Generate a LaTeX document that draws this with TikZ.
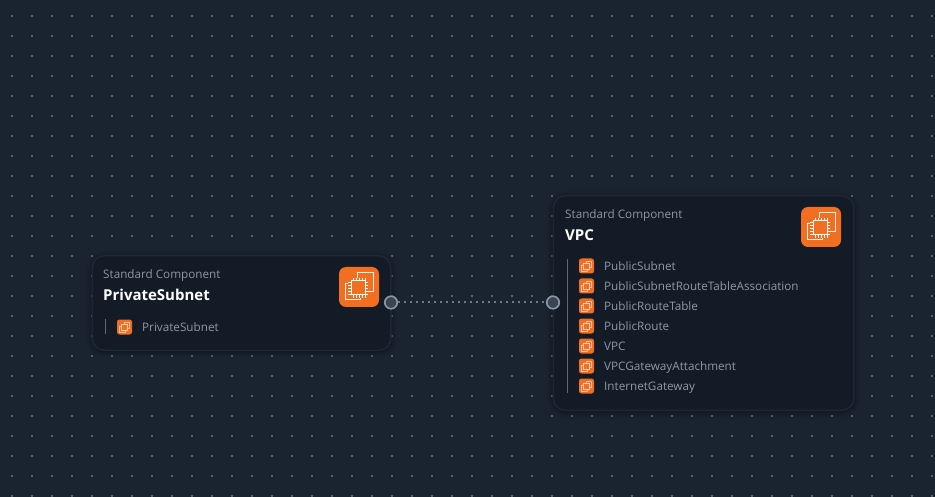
\documentclass[tikz,border=0pt]{standalone}
\usepackage{fontspec}
\setmainfont{Open Sans}
\usetikzlibrary{positioning,shadows.blur}
\definecolor{canvasbg}{HTML}{1A2330}
\definecolor{griddot}{HTML}{56616D}
\definecolor{cardbg}{HTML}{131B27}
\definecolor{cardline}{HTML}{1E2835}
\definecolor{captiontxt}{HTML}{8D96A1}
\definecolor{itemtxt}{HTML}{8F98A3}
\definecolor{iconbg}{HTML}{F26F22}
\definecolor{portbg}{HTML}{3A4553}
\definecolor{portline}{HTML}{8E98A4}
\definecolor{railline}{HTML}{5E6873}
\definecolor{linkdot}{HTML}{6F7A86}
\tikzset{
  card/.style={draw=cardline,line width=1.5pt,fill=cardbg,rounded corners=12pt,anchor=north west,
    inner sep=0pt,blur shadow={shadow blur steps=8,shadow xshift=0pt,shadow yshift=-1.5pt,shadow blur radius=6pt,shadow opacity=50}},
  caption/.style={text=captiontxt,font=\fontsize{11.7}{14}\selectfont,anchor=base west,inner sep=0pt},
  title/.style={text=white,font=\fontsize{15}{18}\selectfont\bfseries,anchor=base west,inner sep=0pt},
  item/.style={text=itemtxt,font=\fontsize{11.7}{14}\selectfont,anchor=base west,inner sep=0pt},
  port/.style={circle,draw=portline,fill=portbg,line width=1.6pt,minimum size=12.5pt,inner sep=0pt},
  rail/.style={draw=railline,line width=1pt},
  pics/chipicon/.style={code={
    \fill[iconbg,rounded corners=7pt] (-20,-20) rectangle (20,20);
    \draw[white!90!iconbg,line width=1pt] (-2,-8) -- (-2,-14) -- (14,-14) -- (14,5) -- (7,5);
    \draw[white!90!iconbg,line width=1pt] (-9,-3) -- (-14,-3) -- (-14,13) -- (1,13) -- (1,8);
    \fill[iconbg] (-11,-9) rectangle (9,11);
    \draw[white,line width=1pt] (-8,-6) rectangle (6,8);
    \foreach \p in {-6,-3,...,6} {
      \draw[white,line width=.6pt] (\p,-9) -- (\p,-6) (\p,8) -- (\p,11);
      \draw[white,line width=.6pt] (-11,\p+1) -- (-8,\p+1) (6,\p+1) -- (9,\p+1);
    }
  }},
  pics/chipmini/.style={code={
    \fill[iconbg,rounded corners=2.5pt] (-7.5,-7.5) rectangle (7.5,7.5);
    \draw[white!55!iconbg,line width=.8pt] (-.5,-2.5) -- (-.5,-5) -- (5,-5) -- (5,1.5) -- (2.5,1.5);
    \draw[white!55!iconbg,line width=.8pt] (-3,-1) -- (-5,-1) -- (-5,5) -- (.5,5) -- (.5,3);
    \draw[white!65!iconbg,fill=iconbg,line width=.8pt] (-3,-2.5) rectangle (2.5,3);
  }}
}
\begin{document}
\begin{tikzpicture}[x=1pt,y=-1pt]
  \useasboundingbox (0,0) rectangle (935,497);
  \fill[canvasbg] (0,0) rectangle (935,497);
  % background dots
  \foreach \i in {0,...,46} \foreach \j in {0,...,24}
    \fill[griddot] ({11.2+20*\i},{15.2+20*\j}) rectangle ++(1.7,1.7);
  % left card
  \node[card,minimum width=298.5pt,minimum height=94.5pt] (privatecard) at (91.5,255) {};
  \node[caption] (privatecap) at (103,279) {Standard Component};
  \node[title] (privatetitle) at (103,301) {PrivateSubnet};
  \pic at (359,287) {chipicon};
  \draw[rail] (105.5,319) -- (105.5,334);
  \pic at (124.5,327) {chipmini};
  \node[item] (privateitem) at (142,331) {PrivateSubnet};
  % right card
  \node[card,minimum width=300.5pt,minimum height=214.5pt] (vpccard) at (552.5,195) {};
  \node[caption] (vpccap) at (565,219) {Standard Component};
  \node[title] (vpctitle) at (565,241) {VPC};
  \pic at (821,227) {chipicon};
  \draw[rail] (567.5,259) -- (567.5,393);
  \foreach \name [count=\n from 0] in {PublicSubnet,PublicSubnetRouteTableAssociation,PublicRouteTable,PublicRoute,VPC,VPCGatewayAttachment,InternetGateway} {
    \pic at (586.5,{266+20*\n}) {chipmini};
    \node[item] (vpcitem\n) at (604,{270.7+20*\n}) {\name};
  }
  % ports and link
  \node[port] (privateport) at (391,302.5) {};
  \node[port] (vpcport) at (553,302.5) {};
  \draw[linkdot,line width=2pt,dash pattern=on 2pt off 4pt] (privateport) -- (vpcport);
\end{tikzpicture}
\end{document}
